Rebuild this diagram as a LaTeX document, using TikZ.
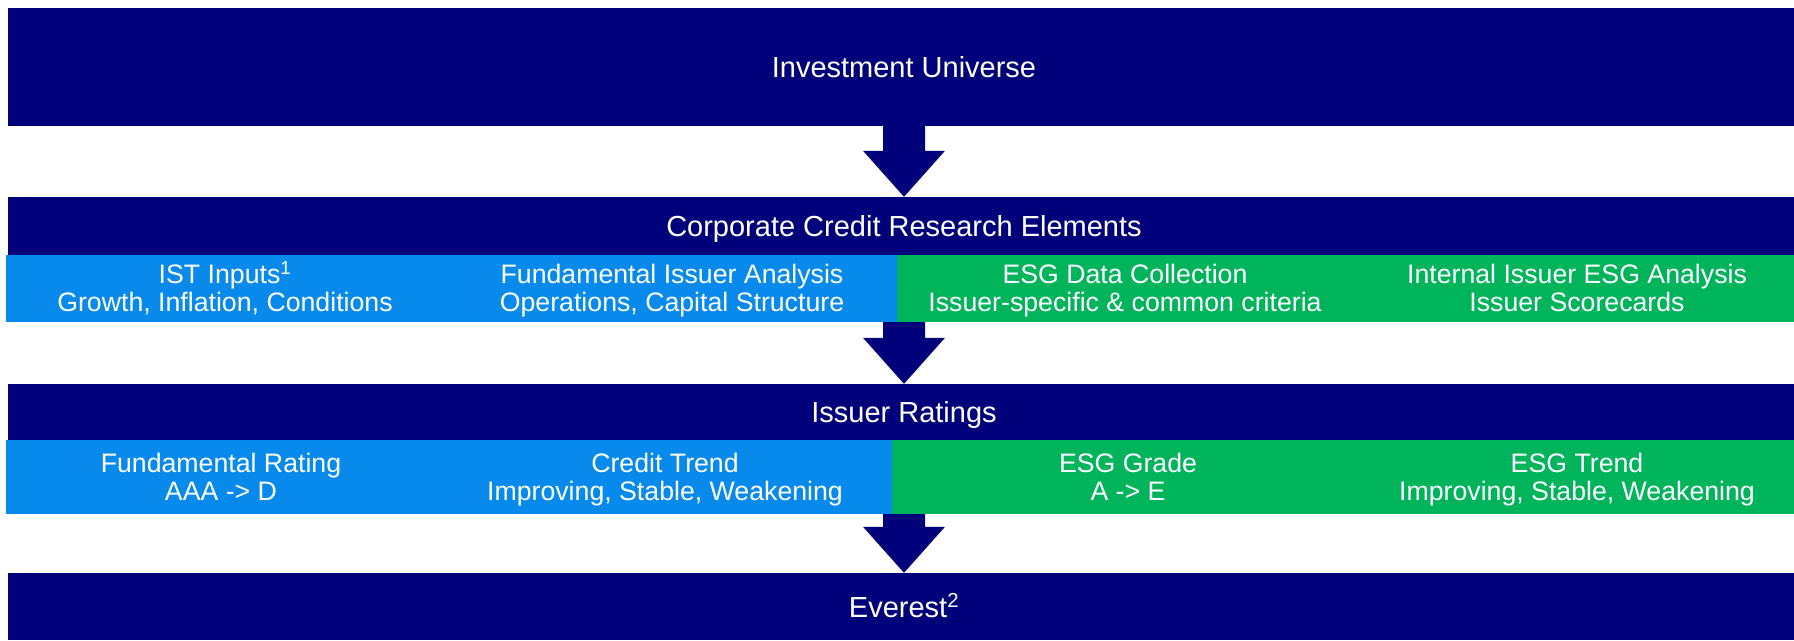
\documentclass[tikz,border=0pt]{standalone}
\usepackage{fontspec}
\setmainfont{Liberation Sans}
\usetikzlibrary{calc}
\definecolor{navy}{RGB}{0,0,122}
\definecolor{istblue}{RGB}{8,138,236}
\definecolor{esggreen}{RGB}{0,180,92}
\begin{document}
\begin{tikzpicture}[x=1pt, y=-1pt,
		txt/.style={text=white, inner sep=0pt},
		bar/.style={txt, fill=navy, minimum width=1792pt, text height=21pt, text depth=0pt, font=\fontsize{29}{32}\selectfont},
		half/.style={inner sep=0pt, minimum height=#1},
		cell/.style={txt, align=center, text height=47pt, text depth=0pt, font=\fontsize{26.7}{28}\selectfont}]
			\useasboundingbox (0, 0) rectangle (1794, 640);
			\node[bar, minimum height=118pt] (univ) at (904, 67) {Investment Universe};
			\node[bar, minimum height=58pt] (corp) at (904, 226) {Corporate Credit Research Elements};
			\node[half=67pt, fill=istblue, minimum width=891pt] (corpB) at (451.5, 288.5) {};
			\node[half=67pt, fill=esggreen, minimum width=903pt] (corpG) at (1348.5, 288.5) {};
			\node[cell] (ist) at (225, 288) {IST Inputs\textsuperscript{1}\\Growth, Inflation, Conditions};
			\node[cell] (fia) at (672, 288) {Fundamental Issuer Analysis\\Operations, Capital Structure};
			\node[cell] (esgd) at (1125, 288) {ESG Data Collection\\Issuer-specific \& common criteria};
			\node[cell] (iesg) at (1577, 288) {Internal Issuer ESG Analysis\\Issuer Scorecards};
			\node[bar, minimum height=56pt] (rate) at (904, 412) {Issuer Ratings};
			\node[half=74pt, fill=istblue, minimum width=886pt] (rateB) at (449, 477) {};
			\node[half=74pt, fill=esggreen, minimum width=908pt] (rateG) at (1346, 477) {};
			\node[cell] (frat) at (221, 477) {Fundamental Rating\\AAA -> D};
			\node[cell] (ctr) at (665, 477) {Credit Trend\\Improving, Stable, Weakening};
			\node[cell] (esgg) at (1128, 477) {ESG Grade\\A -> E};
			\node[cell] (esgt) at (1577, 477) {ESG Trend\\Improving, Stable, Weakening};
			\node[bar, minimum height=67pt] (ever) at (904, 606.5) {Everest\textsuperscript{2}};
			\foreach \a/\b in {univ/corp, corpB/rate, rateB/ever}
				\fill[navy] ($(\b.north |- \a.south) + (-21, 0)$) -- ($(\b.north) + (-21, -46)$)
					-- ($(\b.north) + (-41, -46)$) -- (\b.north) -- ($(\b.north) + (41, -46)$)
					-- ($(\b.north) + (21, -46)$) -- ($(\b.north |- \a.south) + (21, 0)$) -- cycle;
		\end{tikzpicture}
\end{document}
